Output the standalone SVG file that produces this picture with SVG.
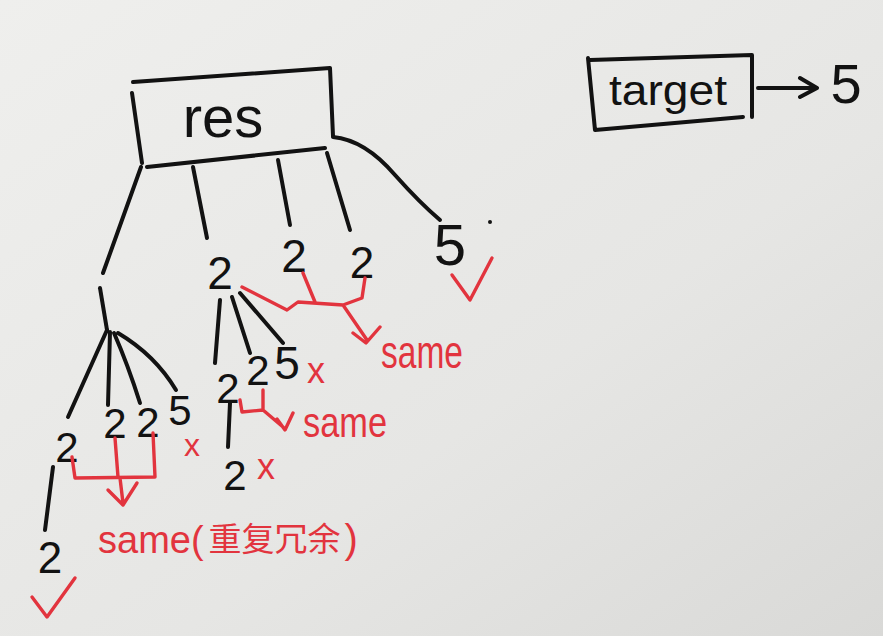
<svg xmlns="http://www.w3.org/2000/svg" width="883" height="636" viewBox="0 0 883 636">
<defs>
<linearGradient id="paper" x1="0" y1="0" x2="1" y2="1">
<stop offset="0" stop-color="#efefed"/>
<stop offset="0.6" stop-color="#e6e6e4"/>
<stop offset="1" stop-color="#d9d9d7"/>
</linearGradient>
<style>
.ink{fill:none;stroke:#121212;stroke-width:4;stroke-linecap:round;stroke-linejoin:round}
.red{fill:none;stroke:#e2343e;stroke-width:3.4;stroke-linecap:round;stroke-linejoin:round}
.num{font-family:"Liberation Sans","DejaVu Sans",sans-serif;fill:#121212;text-anchor:middle}
.rt{font-family:"Liberation Sans","Noto Sans CJK SC",sans-serif;fill:#e2343e}
.lbl{font-family:"Liberation Sans","DejaVu Sans",sans-serif;fill:#121212}
</style>
</defs>
<rect width="883" height="636" fill="url(#paper)"/>

<g id="res">
<path class="ink" d="M133,82 L330,68 L333,136 M132,93 L142,163 M147,167 L325,148"/>
<text class="lbl" x="223" y="137" font-size="58" text-anchor="middle">res</text>
</g>

<g id="target">
<path class="ink" d="M590,60 L752,55 L752,117 M588,58 L595,130 L743,117"/>
<text class="lbl" x="668" y="105" font-size="42" text-anchor="middle" textLength="118" lengthAdjust="spacingAndGlyphs">target</text>
</g>
<g id="target-value">
<text class="num" x="846" y="103" font-size="56">5</text>
</g>

<g id="connectors">
<path class="ink" d="M141,167 L103,273"/>
<path class="ink" d="M100,288 L107,330"/>
<path class="ink" d="M107,330 L68,417 M110,332 L108,405 M114,333 Q128,365 140,403 M118,333 Q155,355 176,390"/>
<path class="ink" d="M193,167 L207,238"/>
<path class="ink" d="M278,160 L290,225"/>
<path class="ink" d="M327,153 L350,230"/>
<path class="ink" d="M333,137 Q365,140 395,175 Q420,203 440,220"/>
<path class="ink" d="M220,300 L215,363 M232,297 L250,353 M240,293 L283,343"/>
<path class="ink" d="M53,467 L45,530"/>
<path class="ink" d="M230,403 L228,447"/>
<path class="ink" d="M758,88 L812,88 M800,78 L817,88 L800,97"/>
</g>

<g id="n-res-2a"><text class="num" x="220" y="289" font-size="46">2</text></g>
<g id="n-res-2b"><text class="num" x="294" y="272" font-size="46">2</text></g>
<g id="n-res-2c"><text class="num" x="362" y="278" font-size="44">2</text></g>
<g id="n-res-5"><text class="num" x="450" y="265" font-size="58">5</text><circle cx="490" cy="222" r="2" fill="#121212"/></g>

<g id="n-l-2a"><text class="num" x="67" y="462" font-size="42">2</text></g>
<g id="n-l-2b"><text class="num" x="115" y="438" font-size="42">2</text></g>
<g id="n-l-2c"><text class="num" x="148" y="437" font-size="42">2</text></g>
<g id="n-l-5"><text class="num" x="180" y="425" font-size="42">5</text></g>
<g id="n-l-2a-child"><text class="num" x="50" y="573" font-size="44">2</text></g>

<g id="n-m-2a"><text class="num" x="228" y="403" font-size="42">2</text></g>
<g id="n-m-2b"><text class="num" x="258" y="385" font-size="42">2</text></g>
<g id="n-m-5"><text class="num" x="287" y="379" font-size="46">5</text></g>
<g id="n-m-2a-child"><text class="num" x="235" y="490" font-size="42">2</text></g>

<g id="marks">
<path class="red" d="M32,597 L47,617 L75,578"/>
<path class="red" d="M452,275 L470,300 L492,258"/>
<text class="rt" x="192" y="456" font-size="32" text-anchor="middle">x</text>
<text class="rt" x="316" y="383" font-size="36" text-anchor="middle">x</text>
<text class="rt" x="266" y="479" font-size="36" text-anchor="middle">x</text>
</g>

<g id="same-top">
<path class="red" d="M242,287 L287,310 L298,302 L343,305 L362,298 L365,278 M303,273 L315,302 M343,305 L367,340 M353,333 L366,343 L380,327"/>
<text class="rt" x="381" y="368" font-size="46" textLength="82" lengthAdjust="spacingAndGlyphs">same</text>
</g>

<g id="same-mid">
<path class="red" d="M240,400 L242,412 L263,410 L263,390 M263,410 L283,427 M277,419 L285,430 L293,413"/>
<text class="rt" x="303" y="437" font-size="42" textLength="84" lengthAdjust="spacingAndGlyphs">same</text>
</g>

<g id="same-left">
<path class="red" d="M72,457 L75,478 L155,477 L153,433 M115,438 L118,477 M120,478 L123,503 M108,490 L123,505 L137,483"/>
<text class="rt" x="98" y="553" font-size="38">same(<tspan dx="5" dy="-2" font-size="33">重复冗余</tspan><tspan dx="4" dy="2" font-size="40">)</tspan></text>
</g>
</svg>
